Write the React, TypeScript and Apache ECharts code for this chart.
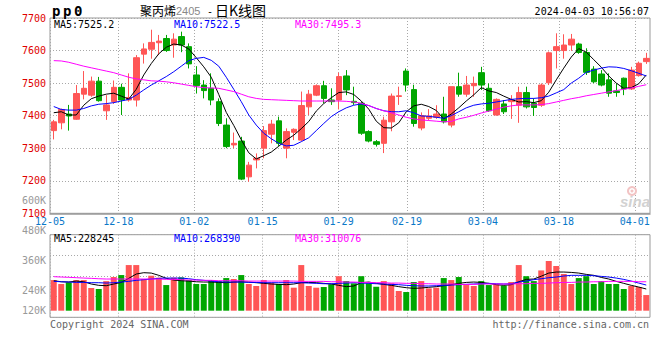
import React, { useEffect, useRef } from "react";
import * as echarts from "echarts";

// ---------- data ----------
const dates = [
  "12-05","12-06","12-07","12-08","12-11","12-12","12-13","12-14","12-15","12-18",
  "12-19","12-20","12-21","12-22","12-25","12-26","12-27","12-28","12-29","01-02",
  "01-03","01-04","01-05","01-08","01-09","01-10","01-11","01-12","01-15","01-16",
  "01-17","01-18","01-19","01-22","01-23","01-24","01-25","01-26","01-29","01-30",
  "01-31","02-01","02-02","02-05","02-06","02-07","02-08","02-19","02-20","02-21",
  "02-22","02-23","02-26","02-27","02-28","02-29","03-01","03-04","03-05","03-06",
  "03-07","03-08","03-11","03-12","03-13","03-14","03-15","03-18","03-19","03-20",
  "03-21","03-22","03-25","03-26","03-27","03-28","03-29","04-01","04-02","04-03",
];
const tickDates = ["12-05","12-18","01-02","01-15","01-29","02-19","03-04","03-18","04-01"];

const open = [
  7354,7378,7405,7389,7466,7463,7506,7415,7443,7487,
  7448,7448,7589,7604,7624,7637,7617,7643,7612,7525,
  7494,7484,7443,7371,7310,7322,7212,7264,7300,7343,
  7384,7300,7349,7325,7427,7463,7492,7448,7448,7522,
  7444,7438,7351,7320,7315,7381,7459,7537,7480,7362,
  7392,7395,7405,7371,7489,7466,7492,7532,7484,7402,
  7436,7443,7432,7471,7438,7432,7501,7600,7600,7617,
  7620,7594,7543,7528,7510,7476,7515,7482,7523,7566,
];
const close = [
  7381,7419,7399,7468,7484,7506,7446,7433,7487,7448,
  7456,7578,7605,7625,7629,7600,7635,7617,7559,7492,
  7477,7448,7376,7305,7315,7205,7248,7269,7354,7374,
  7315,7351,7358,7431,7466,7492,7453,7443,7520,7479,
  7440,7346,7322,7312,7386,7460,7461,7494,7376,7400,
  7399,7405,7381,7489,7466,7494,7499,7494,7415,7450,
  7412,7448,7471,7427,7425,7494,7593,7612,7617,7635,
  7594,7533,7504,7494,7469,7471,7482,7540,7561,7576,
];
const low = [
  7327,7358,7354,7387,7450,7458,7443,7387,7436,7402,
  7443,7428,7560,7575,7586,7596,7578,7595,7545,7468,
  7453,7432,7368,7300,7300,7202,7197,7238,7269,7315,
  7307,7269,7325,7322,7402,7460,7438,7433,7419,7463,
  7433,7341,7318,7305,7285,7352,7433,7474,7366,7355,
  7385,7390,7376,7364,7458,7458,7458,7479,7412,7400,
  7405,7390,7378,7422,7399,7427,7494,7545,7575,7599,
  7590,7525,7500,7490,7458,7458,7463,7479,7520,7559,
];
const high = [
  7387,7422,7433,7494,7537,7520,7519,7463,7508,7498,
  7530,7586,7622,7664,7648,7648,7653,7658,7622,7552,
  7509,7530,7453,7392,7348,7335,7258,7284,7368,7387,
  7397,7361,7361,7474,7479,7496,7507,7484,7532,7540,
  7489,7443,7355,7325,7397,7468,7489,7545,7495,7410,
  7420,7432,7458,7489,7532,7522,7520,7550,7499,7453,
  7448,7463,7489,7489,7453,7499,7597,7653,7650,7651,
  7624,7607,7552,7540,7530,7499,7517,7550,7566,7593,
];
const ma5 = [
  7409,7412,7402,7402,7432,7452,7460,7466,7469,7460,
  7451,7481,7525,7560,7590,7610,7620,7617,7605,7578,
  7550,7518,7465,7410,7370,7326,7286,7267,7277,7288,
  7306,7325,7340,7360,7382,7414,7437,7455,7471,7473,
  7465,7445,7420,7383,7363,7362,7378,7412,7430,7435,
  7428,7416,7390,7405,7424,7445,7464,7486,7476,7471,
  7460,7450,7442,7443,7440,7446,7472,7510,7546,7580,
  7606,7595,7572,7549,7522,7500,7484,7486,7498,7525,
];
const ma10 = [
  7428,7419,7417,7417,7422,7430,7435,7437,7440,7445,
  7450,7463,7479,7494,7507,7520,7535,7552,7569,7576,
  7579,7570,7552,7518,7481,7443,7402,7371,7346,7329,
  7315,7307,7309,7320,7332,7354,7376,7397,7412,7424,
  7432,7436,7431,7422,7415,7412,7412,7415,7409,7399,
  7398,7395,7392,7400,7412,7424,7432,7436,7438,7442,
  7446,7450,7452,7453,7453,7455,7460,7470,7480,7500,
  7515,7533,7540,7546,7550,7549,7545,7538,7530,7522,
];
const ma30 = [
  7569,7568,7564,7558,7552,7547,7542,7537,7532,7525,
  7518,7513,7510,7507,7506,7504,7501,7497,7493,7489,
  7486,7485,7484,7479,7474,7466,7458,7453,7450,7449,
  7448,7447,7446,7445,7445,7445,7445,7445,7445,7444,
  7442,7438,7431,7422,7415,7409,7402,7395,7390,7387,
  7385,7383,7381,7382,7390,7395,7401,7408,7414,7420,
  7426,7430,7433,7433,7433,7434,7437,7442,7447,7452,
  7456,7461,7465,7469,7473,7477,7481,7485,7490,7495,
];
const volume = [
  325000,283000,300000,325000,325000,241000,230000,314000,357000,378000,
  484000,484000,336000,371000,350000,272000,350000,353000,325000,283000,
  283000,325000,314000,346000,336000,378000,283000,262000,325000,297000,
  283000,325000,244000,484000,262000,244000,251000,280000,366000,314000,
  290000,366000,290000,254000,314000,290000,209000,198000,304000,314000,
  237000,244000,346000,325000,357000,272000,262000,314000,272000,279000,
  265000,304000,484000,366000,314000,427000,527000,474000,389000,283000,
  346000,366000,283000,314000,283000,283000,230000,262000,251000,166000,
];
const volMa5 = [
  318000,307000,304000,314000,307000,283000,269000,265000,283000,300000,
  343000,389000,403000,399000,375000,343000,325000,318000,314000,307000,
  304000,304000,300000,297000,304000,307000,304000,297000,290000,283000,
  279000,276000,283000,297000,300000,297000,290000,283000,269000,255000,
  262000,297000,304000,290000,279000,269000,255000,244000,237000,241000,
  248000,255000,265000,276000,290000,300000,304000,300000,290000,276000,
  269000,276000,307000,332000,336000,366000,399000,410000,410000,406000,
  399000,385000,375000,353000,336000,311000,290000,269000,251000,230000,
];
const volMa10 = [
  311000,307000,304000,300000,300000,297000,297000,293000,297000,304000,
  311000,322000,329000,336000,343000,346000,346000,346000,339000,329000,
  322000,314000,307000,304000,304000,304000,300000,300000,297000,297000,
  297000,297000,297000,297000,293000,290000,286000,286000,290000,293000,
  297000,293000,290000,286000,283000,279000,276000,269000,265000,262000,
  262000,265000,269000,272000,276000,279000,283000,286000,290000,286000,
  283000,286000,304000,314000,329000,339000,350000,357000,368000,375000,
  375000,375000,371000,364000,357000,346000,332000,314000,293000,272000,
];
const volMa30 = [
  361000,357000,354000,350000,346000,343000,339000,336000,336000,336000,
  336000,336000,336000,336000,336000,332000,332000,329000,325000,325000,
  322000,322000,318000,318000,318000,318000,314000,314000,314000,314000,
  314000,314000,314000,311000,311000,311000,311000,307000,307000,304000,
  304000,300000,300000,297000,297000,293000,293000,290000,290000,286000,
  286000,283000,283000,283000,279000,279000,279000,283000,283000,283000,
  283000,283000,286000,286000,290000,290000,293000,297000,300000,300000,
  304000,304000,307000,307000,311000,311000,311000,311000,307000,307000,
];
const priceTicks = [7100, 7200, 7300, 7400, 7500, 7600, 7700];
const volTickValues = [120000, 240000, 360000, 480000, 600000];
const volTickLabels = ["120K", "240K", "360K", "480K", "600K"];

const priceLegend = ["MA5:7525.2", "MA10:7522.5", "MA30:7495.3"];
const volLegend = ["MA5:228245", "MA10:268390", "MA30:310076"];
const symbolChars = ["p", "p", "0"];
const titleName = "聚丙烯";
const titleCode = "2405";
const titleKind = "日K线图";
const stamp = "2024-04-03 10:56:07";
const footerLeft = "Copyright 2024 SINA.COM";
const footerRight = "http://finance.sina.com.cn";

// ---------- styles ----------
const UP = "#ff5656";
const DOWN = "#00a600";
const MONO = '"DejaVu Sans Mono", "Liberation Mono", monospace';
const CJK = '"Noto Sans CJK SC", sans-serif';
const GRID_LINE = { color: "#a8a8a8", width: 1, type: [1, 2] as any };
const maColors = ["#000000", "#0000ff", "#ff00ff"];
const legendX = [54, 174, 295];

const isTick = (_i: number, v: string) => tickDates.includes(v);

function buildOption(): any {
  const candles = dates.map((_, i) => [open[i], close[i], low[i], high[i]]);
  const volBars = volume.map((v, i) => ({
    value: v,
    itemStyle: { color: close[i] >= open[i] ? UP : DOWN },
  }));
  const txt = (x: number, y: number, text: string, fill: string, font: string, align = "left") => ({
    type: "text",
    x,
    y,
    z: 100,
    style: { text, fill, font, align, verticalAlign: "middle" },
  });
  const graphics: any[] = [];
  symbolChars.forEach((c, i) => graphics.push(txt(52 + i * 11, 11, c, "#000", `bold 14px ${MONO}`)));
  graphics.push(txt(140, 10, titleName, "#000", `12px ${CJK}`));
  graphics.push(txt(176, 11, titleCode, "#888", `11px "Liberation Sans", sans-serif`));
  graphics.push(txt(207, 11, "-", "#000", `10px ${MONO}`));
  graphics.push(txt(215, 10, titleKind, "#000", `14px ${CJK}`));
  graphics.push(txt(649, 11, stamp, "#000", `10px ${MONO}`, "right"));
  priceLegend.forEach((t, i) => graphics.push(txt(legendX[i], 24, t, maColors[i], `10px ${MONO}`)));
  volLegend.forEach((t, i) => graphics.push(txt(legendX[i], 238.5, t, maColors[i], `10px ${MONO}`)));
  graphics.push(txt(50, 324.5, footerLeft, "#666", `10px ${MONO}`));
  graphics.push(txt(649, 324.5, footerRight, "#666", `10px ${MONO}`, "right"));
  // sina watermark
  graphics.push({ type: "ring", z: 5, shape: { cx: 632, cy: 191, r: 5, r0: 3 }, style: { fill: "#f2c4c4" } });
  graphics.push({ type: "circle", z: 5, shape: { cx: 632, cy: 191, r: 1.5 }, style: { fill: "#f2c4c4" } });
  graphics.push({
    type: "text", x: 620, y: 201, z: 5,
    style: { text: "sina", fill: "#d2d2d2", font: `italic bold 15px "Liberation Sans", sans-serif`, verticalAlign: "middle" },
  });

  const hiddenCat = (gridIndex: number, boundaryGap: boolean) => ({
    type: "category", gridIndex, data: dates, boundaryGap,
    axisLine: { show: false }, axisTick: { show: false }, axisLabel: { show: false }, splitLine: { show: false },
  });

  return {
    animation: false,
    backgroundColor: "#ffffff",
    grid: [
      { left: 50, top: 18, width: 600, height: 195.3, show: true, borderColor: "#999", borderWidth: 1, backgroundColor: "transparent" },
      { left: 50, top: 234.7, width: 600, height: 82.6, show: true, borderColor: "#999", borderWidth: 1, backgroundColor: "transparent" },
      { left: 50, top: 200.7, width: 600, height: 119.3 },
    ],
    xAxis: [
      hiddenCat(0, true),
      {
        type: "category", gridIndex: 0, data: dates, boundaryGap: false, position: "bottom",
        axisLine: { show: true, lineStyle: { color: "#999", width: 1.5 } },
        axisTick: { show: false },
        axisLabel: { interval: isTick, color: "#0a78c8", fontSize: 10, lineHeight: 9, fontFamily: MONO, margin: 4 },
        splitLine: { show: true, interval: isTick, lineStyle: GRID_LINE },
      },
      hiddenCat(1, true),
      {
        type: "category", gridIndex: 1, data: dates, boundaryGap: false, position: "bottom",
        axisLine: { show: false }, axisTick: { show: false }, axisLabel: { show: false },
        splitLine: { show: true, interval: isTick, lineStyle: GRID_LINE },
      },
      hiddenCat(2, true),
    ],
    yAxis: [
      {
        type: "value", gridIndex: 0, min: priceTicks[0], max: priceTicks[priceTicks.length - 1], interval: 100,
        axisLine: { show: false }, axisTick: { show: false },
        axisLabel: {
          color: "#e00000", fontSize: 10, lineHeight: 9, fontFamily: MONO, margin: 4,
          formatter: (v: number) => String(v),
        },
        splitLine: { show: true, lineStyle: GRID_LINE },
      },
      {
        type: "value", gridIndex: 1, min: -70000, max: 806000,
        axisLine: { show: false }, axisTick: { show: false }, axisLabel: { show: false }, splitLine: { show: false },
      },
      {
        type: "value", gridIndex: 1, min: 0, max: 4, interval: 1,
        axisLine: { show: false }, axisTick: { show: false }, axisLabel: { show: false },
        splitLine: { show: true, lineStyle: GRID_LINE },
      },
      {
        type: "value", gridIndex: 2, min: volTickValues[0], max: volTickValues[volTickValues.length - 1], interval: 120000,
        axisLine: { show: false }, axisTick: { show: false }, splitLine: { show: false },
        axisLabel: {
          color: "#999", fontSize: 10, lineHeight: 9, fontFamily: MONO, margin: 4,
          formatter: (v: number) => {
            const t = volTickLabels[volTickValues.indexOf(v)] ?? "";
            return v === volTickValues[0] ? `{up|${t}}` : t;
          },
          rich: { up: { padding: [0, 0, 20, 0], color: "#999", fontSize: 10, lineHeight: 9, fontFamily: MONO } },
        },
      },
    ],
    series: [
      {
        type: "candlestick", xAxisIndex: 0, yAxisIndex: 0, data: candles, barWidth: 6,
        itemStyle: { color: UP, color0: DOWN, borderColor: UP, borderColor0: DOWN, borderWidth: 1 },
      },
      ...[ma5, ma10, ma30].map((d, i) => ({
        type: "line", xAxisIndex: 0, yAxisIndex: 0, data: d, symbol: "none", z: 3,
        lineStyle: { color: maColors[i], width: 1 },
      })),
      { type: "bar", xAxisIndex: 2, yAxisIndex: 1, data: volBars, barWidth: 6 },
      ...[volMa5, volMa10, volMa30].map((d, i) => ({
        type: "line", xAxisIndex: 2, yAxisIndex: 1, data: d, symbol: "none", z: 3,
        lineStyle: { color: maColors[i], width: 1 },
      })),
    ],
    graphic: { elements: graphics },
  };
}

export default function App() {
  const ref = useRef<HTMLDivElement>(null);
  useEffect(() => {
    if (!ref.current) return;
    const chart = echarts.init(ref.current, null, { renderer: "svg" });
    chart.setOption(buildOption());
    return () => chart.dispose();
  }, []);
  return (
    <div
      ref={ref}
      style={{ position: "absolute", left: 0, top: 0, width: 660, height: 360, background: "#fff" }}
    />
  );
}
